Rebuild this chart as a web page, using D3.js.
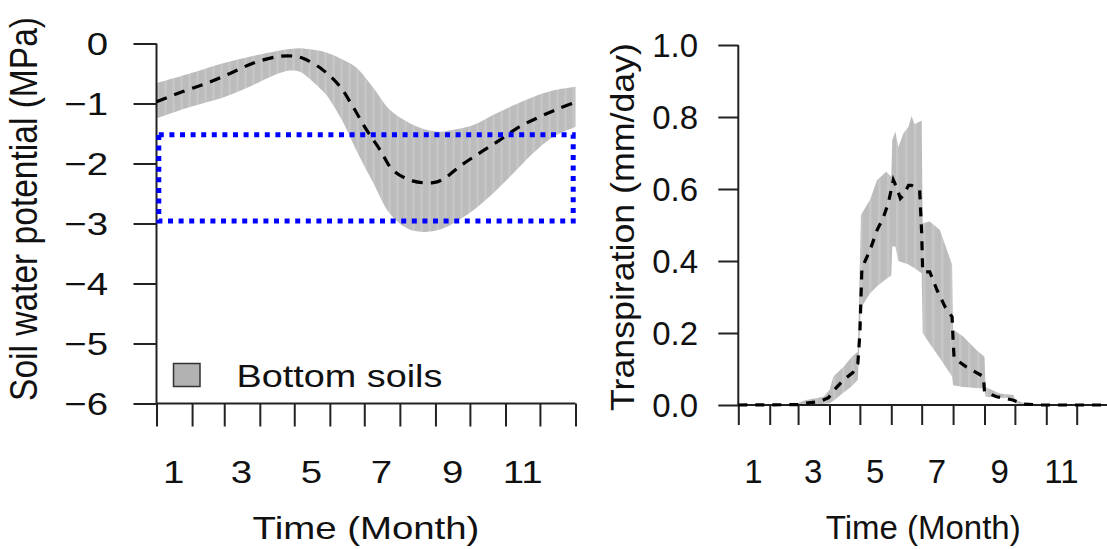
<!DOCTYPE html>
<html><head><meta charset="utf-8">
<script src="https://cdn.jsdelivr.net/npm/d3@7"></script>
<style>html,body{margin:0;padding:0;background:#fff;}svg{display:block;}</style>
</head><body>
<svg id="chart" width="1107" height="549"></svg>
<script>
// ---------- DATA ----------
const monthBounds = [0,31,59,90,120,151,181,212,243,273,304,334,365];
const monthLabels = ["1","3","5","7","9","11"];
const monthLabelDays = [15,74,135,196,258,319];

// Left panel: soil water potential (MPa)
const swpTicks = [0,-1,-2,-3,-4,-5,-6];
const swpMeanDays = [0,23,44,64,84,105,119,128,145,160,171,183,195,206,223,241,250,264,281,299,316,334,351,365];
const swpMean = [-0.97,-0.80,-0.66,-0.50,-0.33,-0.22,-0.21,-0.25,-0.44,-0.72,-1.05,-1.44,-1.78,-2.11,-2.29,-2.32,-2.26,-2.05,-1.83,-1.61,-1.39,-1.22,-1.08,-0.98];
const swpBandDays = [0,29,58,81,101,116,125,131,142,148,163,174,189,203,218,232,247,261,276,293,311,328,346,365];
const swpUpper = [-0.66,-0.50,-0.33,-0.22,-0.14,-0.09,-0.08,-0.09,-0.12,-0.15,-0.275,-0.40,-0.74,-1.10,-1.30,-1.42,-1.47,-1.43,-1.36,-1.19,-1.03,-0.89,-0.78,-0.72];
const swpLower = [-1.25,-1.06,-0.90,-0.72,-0.54,-0.45,-0.47,-0.55,-0.74,-0.86,-1.33,-1.78,-2.33,-2.83,-3.08,-3.14,-3.10,-2.97,-2.78,-2.50,-2.16,-1.83,-1.55,-1.39];
const boxDays = [2,363];
const boxSwp = [-1.52,-2.96];
const legendLabel = "Bottom soils";

// Right panel: transpiration (mm/day)
const trTicks = [0,0.2,0.4,0.6,0.8,1.0];
const trMeanDays = [0,60,67,81,89,94,104,113,118,120,121,122,130,137,143,148,153,156,160,163,168,171,179,181,182,189,196,204,211,212,213,225,242,243,255,271,281,300,365];
const trMean = [0,0.001,0.005,0.01,0.02,0.04,0.07,0.09,0.115,0.2,0.29,0.38,0.43,0.486,0.52,0.56,0.625,0.606,0.574,0.583,0.61,0.61,0.597,0.477,0.37,0.37,0.32,0.273,0.245,0.18,0.13,0.106,0.079,0.037,0.023,0.014,0.003,0,0];
const trBandDays = [0,55,67,84,90,94,104,112,118,120,121,130,137,146,151,152,155,158,163,168,171,174,181,182,189,199,211,212,222,235,243,244,258,272,273,285,300,365];
const trUpper = [0,0.002,0.014,0.023,0.042,0.08,0.106,0.134,0.148,0.40,0.528,0.57,0.625,0.648,0.634,0.736,0.76,0.717,0.755,0.773,0.803,0.78,0.79,0.505,0.51,0.486,0.39,0.21,0.19,0.153,0.134,0.05,0.032,0.028,0.014,0.003,0.001,0];
const trLower = [0,0,0.002,0.003,0.005,0.012,0.035,0.052,0.07,0.20,0.27,0.31,0.33,0.35,0.36,0.44,0.44,0.40,0.395,0.39,0.385,0.38,0.366,0.2,0.17,0.13,0.079,0.055,0.05,0.047,0.046,0.023,0.02,0.019,0.005,0,0,0];

// ---------- DRAW ----------
const svg = d3.select("#chart");
const FONT = "'Liberation Sans', Arial, Helvetica, sans-serif";
const AX = "#222";

const defs = svg.append("defs");
function stripe(id, w){
  const p = defs.append("pattern").attr("id", id).attr("patternUnits","userSpaceOnUse")
    .attr("width", w).attr("height", 10);
  p.append("rect").attr("width", w).attr("height", 10).attr("fill", "#bcbcbc");
  p.append("rect").attr("x", w*0.55).attr("width", w*0.3).attr("height", 10).attr("fill", "#c6c6c6");
}
stripe("stripeL", 8);
stripe("stripeR", 9);

function txt(g, x, y, s, o){
  const t = g.append("text")
    .attr("transform", `translate(${x},${y}) scale(${o.sx||1},1)` + (o.rot ? " rotate(-90)" : ""))
    .attr("text-anchor", o.anchor || "middle")
    .attr("font-family", FONT).attr("font-size", o.size).attr("fill", "#111")
    .text(s);
  if (o.dy) t.attr("dy", o.dy);
  if (o.len) t.attr("textLength", o.len).attr("lengthAdjust", "spacingAndGlyphs");
  return t;
}

function panel(cfg){
  const g = svg.append("g");
  const x = d3.scaleLinear().domain([0,365]).range(cfg.xr);
  const y = d3.scaleLinear().domain(cfg.yd).range(cfg.yr);

  // band
  const bandPts = cfg.bandDays.map((d,i)=>({d, u:cfg.upper[i], l:cfg.lower[i]}));
  const area = d3.area().x(p=>x(p.d)).y0(p=>y(p.l)).y1(p=>y(p.u)).curve(cfg.curve);
  g.append("path").datum(bandPts).attr("d", area).attr("fill", `url(#${cfg.pattern})`).attr("stroke","none");

  // mean dashed line
  const meanPts = cfg.meanDays.map((d,i)=>({d, v:cfg.mean[i]}));
  const line = d3.line().x(p=>x(p.d)).y(p=>y(p.v)).curve(cfg.curve);

  // axes
  const ya = g.append("g").attr("transform", `translate(${cfg.xr[0]},0)`)
    .call(d3.axisLeft(y).tickValues(cfg.yTicks).tickSize(cfg.tick).tickFormat(""));
  const xa = g.append("g").attr("transform", `translate(0,${cfg.yr[0]})`)
    .call(d3.axisBottom(x).tickValues(monthBounds).tickSize(cfg.tick).tickFormat(""));
  [ya, xa].forEach(a=>{
    a.select(".domain").attr("stroke", AX).attr("stroke-width", 2);
    a.selectAll(".tick line").attr("stroke", AX).attr("stroke-width", 2);
  });
  ya.select(".domain").attr("d", `M0,${cfg.yr[0]}V${cfg.yr[1]}`);
  xa.select(".domain").attr("d", `M${cfg.xr[0]},0H${cfg.xr[1]}`);

  g.append("path").datum(meanPts).attr("d", line).attr("fill","none")
    .attr("stroke", "#000").attr("stroke-width", 3.2).attr("stroke-dasharray", cfg.dash);

  // tick labels
  cfg.yTicks.forEach(v=>{
    txt(g, cfg.yLabX, y(v), cfg.yFmt(v), {anchor:"end", size:cfg.fs, sx:cfg.sx, dy:"0.36em"});
  });
  monthLabelDays.forEach((d,i)=>{
    txt(g, x(d), 483, monthLabels[i], {size:cfg.fs, sx:cfg.sx});
  });
  // axis titles
  txt(g, (cfg.xr[0]+cfg.xr[1])/2, 539, "Time (Month)", {size:cfg.fs, sx:cfg.sx});
  txt(g, cfg.titleX, cfg.titleY, cfg.title, {size:cfg.fs, sx:cfg.sx, rot:true, len:cfg.titleLen});
  return {g, x, y};
}

const minus = v => v < 0 ? "\u2212" + Math.abs(v) : String(v);

const L = panel({
  xr:[156.5, 575.5], yd:[-6,0], yr:[403.5, 43.5], yTicks:swpTicks, tick:23,
  bandDays:swpBandDays, upper:swpUpper, lower:swpLower, meanDays:swpMeanDays, mean:swpMean,
  curve:d3.curveCatmullRom, pattern:"stripeL", dash:"11,8",
  yLabX:108, yFmt:minus, fs:32, sx:1.2,
  title:"Soil water potential (MPa)", titleX:37, titleY:209, titleLen:384
});

// blue dotted box (left panel)
L.g.append("rect")
  .attr("x", L.x(boxDays[0])).attr("y", L.y(boxSwp[0]))
  .attr("width", L.x(boxDays[1]) - L.x(boxDays[0]))
  .attr("height", L.y(boxSwp[1]) - L.y(boxSwp[0]))
  .attr("fill","none").attr("stroke","#0000ff").attr("stroke-width",5)
  .attr("stroke-dasharray","5,5.6");

// legend
L.g.append("rect").attr("x",173.5).attr("y",363.5).attr("width",26.5).attr("height",23)
  .attr("fill","#b2b2b2").attr("stroke","#333").attr("stroke-width",1.5);
txt(L.g, 236.5, 386.5, legendLabel, {anchor:"start", size:31, sx:1.22});

const R = panel({
  xr:[738.3, 1108.1], yd:[0,1], yr:[405, 45], yTicks:trTicks, tick:20,
  bandDays:trBandDays, upper:trUpper, lower:trLower, meanDays:trMeanDays, mean:trMean,
  curve:d3.curveLinear, pattern:"stripeR", dash:"9,8",
  yLabX:698, yFmt:v=>v.toFixed(1), fs:33, sx:1.0,
  title:"Transpiration (mm/day)", titleX:634, titleY:227, titleLen:368
});
</script>
</body></html>
